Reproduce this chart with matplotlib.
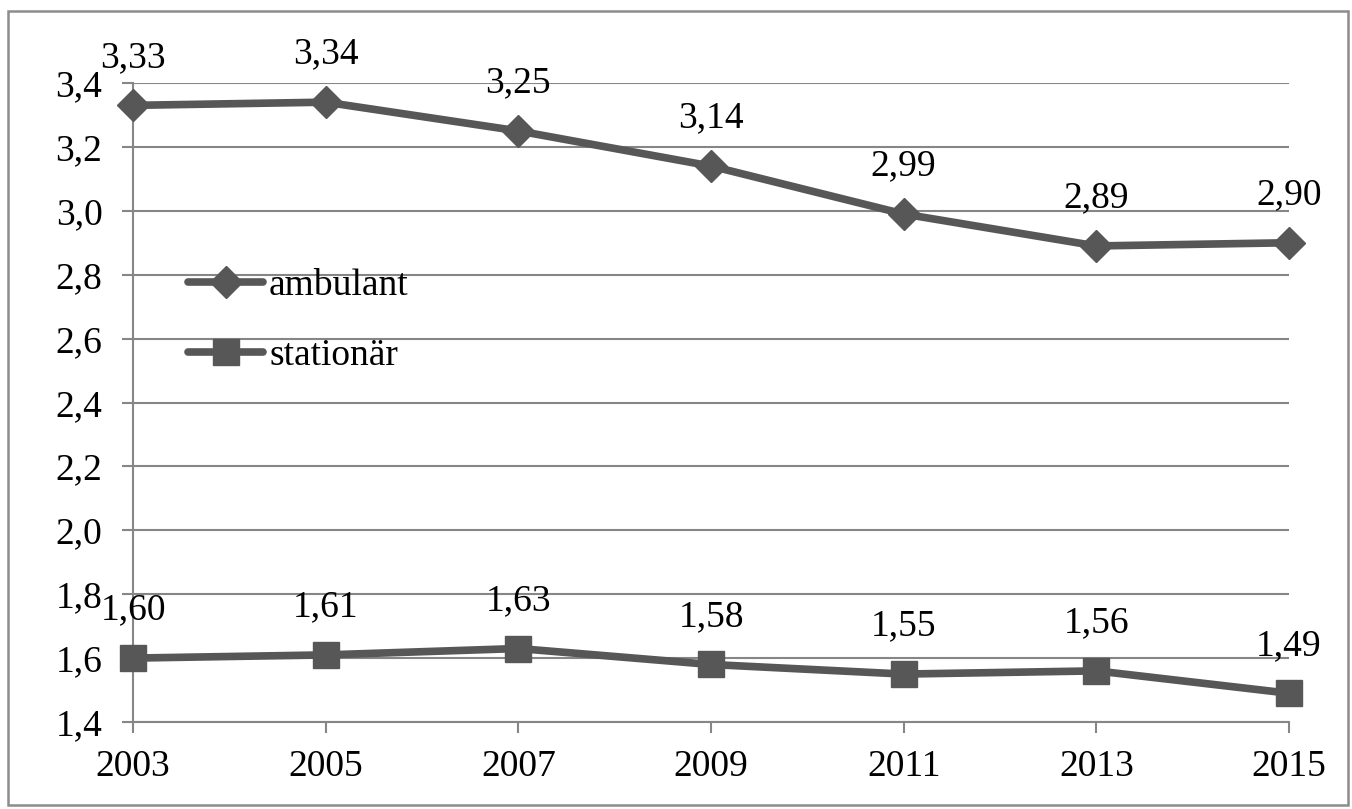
import matplotlib
matplotlib.use("Agg")
import matplotlib.pyplot as plt
from matplotlib.patches import Rectangle
from matplotlib.ticker import FuncFormatter

# data
years = ["2003", "2005", "2007", "2009", "2011", "2013", "2015"]
ambulant = [3.33, 3.34, 3.25, 3.14, 2.99, 2.89, 2.90]
stationaer = [1.60, 1.61, 1.63, 1.58, 1.55, 1.56, 1.49]
y_ticks = [1.4, 1.6, 1.8, 2.0, 2.2, 2.4, 2.6, 2.8, 3.0, 3.2, 3.4]

plt.rcParams['font.family'] = ['Liberation Serif', 'DejaVu Serif']

line_col = "#575757"
grid_col = "#868686"
fs = 27

fig = plt.figure(figsize=(13.52, 8.09), dpi=100)
ax = fig.add_axes([133 / 1352, 1 - 722 / 809, (1289 - 133) / 1352, (722 - 83) / 809])

x = list(range(len(years)))
ax.plot(x, ambulant, color=line_col, lw=5.5, marker="D", ms=16,
        mec=line_col, mfc=line_col, label="ambulant", zorder=3, clip_on=False,
        solid_capstyle="round")
ax.plot(x, stationaer, color=line_col, lw=5.5, marker="s", ms=19,
        mec=line_col, mfc=line_col, label="stationär", zorder=3, clip_on=False,
        solid_capstyle="round")

def fmt(v):
    return f"{v:.2f}".replace(".", ",")

for xi, v in zip(x, ambulant):
    ax.annotate(fmt(v), (xi, v), xytext=(0, 22), textcoords="offset points",
                ha="center", va="bottom", fontsize=fs)
for xi, v in zip(x, stationaer):
    ax.annotate(fmt(v), (xi, v), xytext=(0, 22), textcoords="offset points",
                ha="center", va="bottom", fontsize=fs)

ax.set_xlim(0, 6)
ax.set_ylim(1.4, 3.4)
ax.set_xticks(x)
ax.set_xticklabels(years)
ax.set_yticks(y_ticks)
ax.yaxis.set_major_formatter(FuncFormatter(lambda v, p: f"{v:.1f}".replace(".", ",")))
ax.grid(axis="y", color=grid_col, lw=1.5, zorder=1)
ax.set_axisbelow(True)

for s in ["top", "right"]:
    ax.spines[s].set_visible(False)
for s in ["left", "bottom"]:
    ax.spines[s].set_color(grid_col)
    ax.spines[s].set_linewidth(1.5)
ax.tick_params(axis="both", labelsize=fs, color=grid_col, width=1.5, length=8)
ax.tick_params(axis="y", pad=14)
ax.tick_params(axis="x", pad=12)

ax.legend(loc="upper left", bbox_to_anchor=(0.048, 0.71), frameon=False,
          fontsize=fs, handlelength=2.0, handletextpad=0.15, labelspacing=0.95,
          borderpad=0, borderaxespad=0)

fig.add_artist(Rectangle((8 / 1352, 4 / 809), 1340 / 1352, 794 / 809,
                         transform=fig.transFigure, fill=False,
                         edgecolor="#8c8c8c", lw=1.8))

fig.savefig("out.png", dpi=100)
